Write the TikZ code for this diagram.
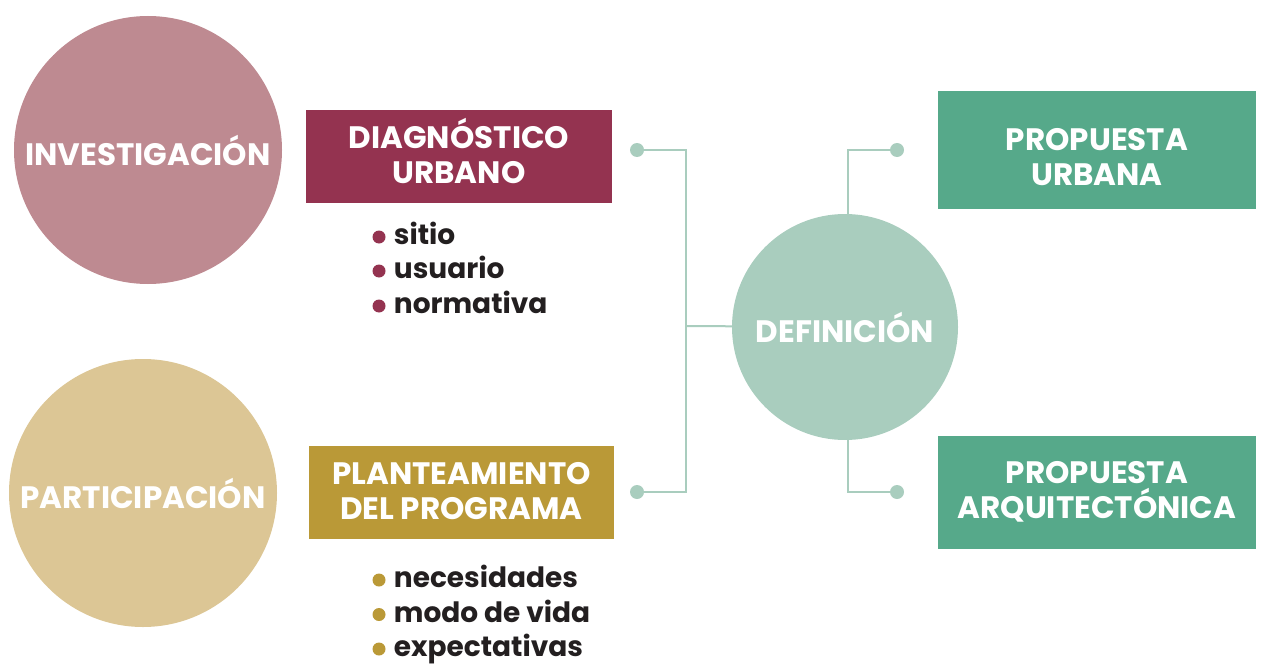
\documentclass[tikz,border=0pt]{standalone}
\usepackage{fontspec}
\setmainfont{Poppins}
\usetikzlibrary{positioning}

\definecolor{investcol}{HTML}{BE8A91}
\definecolor{particol}{HTML}{DCC695}
\definecolor{diagcol}{HTML}{943350}
\definecolor{plantcol}{HTML}{BA9937}
\definecolor{defincol}{HTML}{A9CDBE}
\definecolor{propcol}{HTML}{56A98A}
\definecolor{inkcol}{HTML}{231F20}

\begin{document}
\begin{tikzpicture}[x=1pt, y=-1pt,
	bigcircle/.style={circle, draw=none, text=white, inner sep=0pt, font=\fontsize{31}{34}\selectfont\bfseries},
	phasebox/.style={rectangle, draw=none, text=white, inner sep=0pt, align=center, font=\fontsize{31}{35}\selectfont\bfseries},
	joindot/.style={circle, fill=defincol, inner sep=0pt, minimum size=14pt},
	bulletdot/.style={circle, inner sep=0pt, minimum size=13pt},
	item/.style={text=inkcol, inner sep=0pt, text height=15.5pt, text depth=0pt, font=\fontsize{28}{30}\selectfont\bfseries},
	link/.style={draw=defincol, line width=2pt}]

	\useasboundingbox (0,0) rectangle (1263,666);

	% Circles
	\node[bigcircle, fill=investcol, minimum size=268pt] (invest) at (148,150) {INVESTIGACIÓN};
	\node[bigcircle, fill=particol, minimum size=268pt] (partic) at (143,493) {PARTICIPACIÓN};
	\node[bigcircle, fill=defincol, minimum size=226pt] (defin) at (845,327) {DEFINICIÓN};

	% Boxes
	\node[phasebox, fill=diagcol, minimum width=306pt, minimum height=93pt] (diag) at (459,156.5) {};
	\node[phasebox] at ([yshift=6pt]diag.center) {DIAGNÓSTICO\\URBANO};
	\node[phasebox, fill=plantcol, minimum width=305pt, minimum height=93pt] (plant) at (461.5,492.5) {};
	\node[phasebox] at ([yshift=1pt]plant.center) {PLANTEAMIENTO\\DEL PROGRAMA};
	\node[phasebox, fill=propcol, minimum width=318pt, minimum height=117pt] (propurb) at (1097,150) {};
	\node[phasebox] at ([yshift=-7pt]propurb.center) {PROPUESTA\\URBANA};
	\node[phasebox, fill=propcol, minimum width=318pt, minimum height=113pt] (proparq) at (1097,492) {PROPUESTA\\ARQUITECTÓNICA};

	% Bullet lists
	\node[bulletdot, fill=diagcol] (b1) at (379,237) {};
	\node[bulletdot, fill=diagcol] (b2) at (379,271) {};
	\node[bulletdot, fill=diagcol] (b3) at (379,306) {};
	\node[item, right=8pt of b1] (sitio) {sitio};
	\node[item, right=8pt of b2] (usuario) {usuario};
	\node[item, right=8pt of b3] (normativa) {normativa};

	\node[bulletdot, fill=plantcol] (b4) at (379,580) {};
	\node[bulletdot, fill=plantcol] (b5) at (379,614.5) {};
	\node[bulletdot, fill=plantcol] (b6) at (379,649) {};
	\node[item, right=8pt of b4] (necesidades) {necesidades};
	\node[item, right=8pt of b5] (modo) {modo de vida};
	\node[item, right=8pt of b6] (expect) {expectativas};

	% Connectors
	\node[joindot] (jdiag) at (637,150) {};
	\node[joindot] (jplant) at (637,492) {};
	\node[joindot] (jurb) at (897,150) {};
	\node[joindot] (jarq) at (897,492) {};
	\coordinate (hub) at (686,326);

	\draw[link] (jdiag.center) -| (hub);
	\draw[link] (jplant.center) -| (hub);
	\draw[link] (hub) -- (defin);
	\draw[link] ([xshift=3pt]defin.north) |- (jurb.center);
	\draw[link] ([xshift=3pt]defin.south) |- (jarq.center);

\end{tikzpicture}
\end{document}
